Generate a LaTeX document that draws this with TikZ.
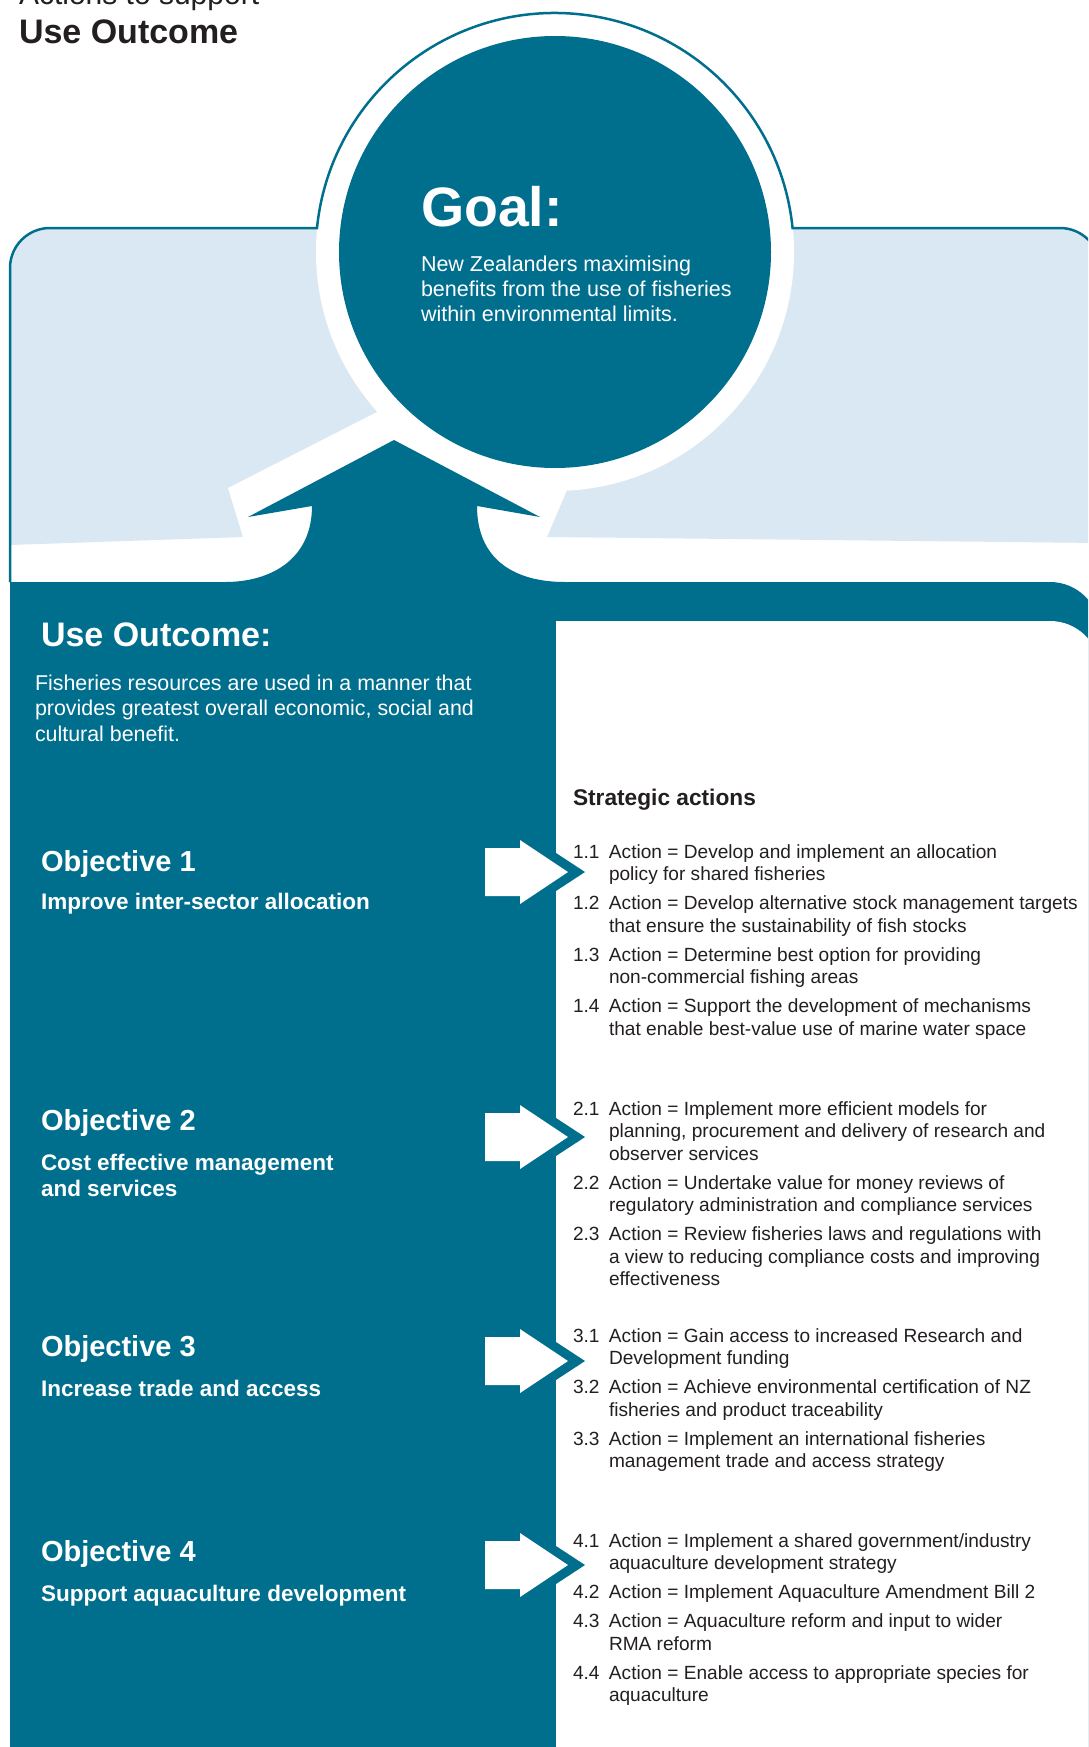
\documentclass[tikz,border=0pt]{standalone}
\usepackage{fontspec}
\setmainfont{Liberation Sans}
\definecolor{darkteal}{HTML}{006F8E}
\definecolor{paleblue}{HTML}{D9E8F2}
\definecolor{inkgray}{HTML}{231F20}
\begin{document}
\begin{tikzpicture}[x=1pt,y=-1pt,
  lbl/.style={anchor=base west, inner sep=0pt, outer sep=0pt},
  wtxt/.style={lbl, text=white},
  objtitle/.style={wtxt, font=\bfseries\fontsize{29}{32}\selectfont},
  objsub/.style={wtxt, font=\bfseries\fontsize{22.5}{26.5}\selectfont},
  acts/.style={lbl, text=inkgray, font=\fontsize{19.1}{22.5}\selectfont},
  darkfill/.style={fill=darkteal, draw=none},
  outline/.style={draw=darkteal, line width=2.5pt},
]
\useasboundingbox (0,0) rectangle (1088,1747);
\clip (0,0) rectangle (1088,1747);
\fill[white] (0,0) rectangle (1088,1747);

% pale blue box
\fill[paleblue] (10,545) -- (10,268) arc[start angle=180,end angle=270,radius=40]
  -- (1060,228) arc[start angle=270,end angle=360,radius=40]
  -- (1100,543) -- (547,537) -- (243,537) -- cycle;
% white ring around goal circle and around arrow
\fill[white] (555,252) circle[radius=239];
\fill[white] (377,412) -- (567,490) -- (547,537) -- (547,560) -- (243,560) -- (243,537) -- (228,488) -- cycle;
% outline of the box and circle
\draw[outline] (10,582) -- (10,268) arc[start angle=180,end angle=270,radius=40]
  -- (317,228) arc[start angle=185.76,end angle=354.24,radius=239]
  -- (1060,228) arc[start angle=270,end angle=360,radius=40] -- (1100,300);
% goal circle
\node[circle, fill=darkteal, minimum size=432pt, inner sep=0pt] (goal) at (555,252) {};

% dark region
\fill[darkteal] (10,582) -- (1050,582) arc[start angle=270,end angle=360,radius=50]
  -- (1100,1760) -- (10,1760) -- cycle;
% upward arrow
\fill[darkteal] (394,440) -- (540,517) -- (477,506)
  .. controls (477,560) and (515,582) .. (565,582) -- (565,595) -- (225,595) -- (225,582)
  .. controls (270,582) and (312,560) .. (312,506) -- (248,517) -- cycle;
% white panel
\fill[white] (556,621) -- (1050,621) arc[start angle=270,end angle=360,radius=50]
  -- (1100,1760) -- (556,1760) -- cycle;

% objective arrows
\foreach \yc/\nm in {872/ar1,1137/ar2,1361/ar3,1565/ar4}{
  \fill[darkteal] (550,\yc-19) -- (556,\yc-19) -- (585,\yc) -- (556,\yc+19) -- (550,\yc+19) -- cycle;
  \fill[white] (485,\yc-24) -- (520,\yc-24) -- (520,\yc-32) -- (568,\yc) -- (520,\yc+32) -- (520,\yc+24) -- (485,\yc+24) -- cycle;
  \coordinate (\nm) at (568,\yc);
}

% titles
\node[lbl, text=inkgray, font=\fontsize{30}{34}\selectfont] (pretitle) at (19,5) {Actions to support};
\node[lbl, text=inkgray, font=\bfseries\fontsize{34}{38}\selectfont] (title) at (19,44) {Use Outcome};

% goal text
\node[wtxt, font=\bfseries\fontsize{55.5}{60}\selectfont] (goalhead) at (421,226) {Goal:};
\node[wtxt, font=\fontsize{21.5}{25}\selectfont] (goaltext) at (421,271.5)
  {\begin{tabular}[t]{@{}l@{}}New Zealanders maximising\\benefits from the use of fisheries\\within environmental limits.\end{tabular}};

% use outcome
\node[wtxt, font=\bfseries\fontsize{34}{38}\selectfont] (uohead) at (41,646) {Use Outcome:};
\node[wtxt, font=\fontsize{21.4}{25.6}\selectfont] (uotext) at (35,690)
  {\begin{tabular}[t]{@{}l@{}}Fisheries resources are used in a manner that\\provides greatest overall economic, social and\\cultural benefit.\end{tabular}};

% objectives
\node[objtitle] (o1) at (41,871) {Objective 1};
\node[objsub] (o1s) at (41,909) {Improve inter-sector allocation};
\node[objtitle] (o2) at (41,1130) {Objective 2};
\node[objsub] (o2s) at (41,1170) {\begin{tabular}[t]{@{}l@{}}Cost effective management\\and services\end{tabular}};
\node[objtitle] (o3) at (41,1356) {Objective 3};
\node[objsub] (o3s) at (41,1396) {Increase trade and access};
\node[objtitle] (o4) at (41,1561) {Objective 4};
\node[objsub] (o4s) at (41,1601) {Support aquaculture development};

% strategic actions
\node[lbl, text=inkgray, font=\bfseries\fontsize{22.7}{26}\selectfont] (sa) at (573,805) {Strategic actions};
\newcommand{\nb}[1]{\makebox[36pt][l]{#1}}
\node[acts] (g1) at (573,858) {\begin{tabular}[t]{@{}l@{}l@{}}
\nb{1.1} & Action = Develop and implement an allocation\\
 & policy for shared fisheries\\[6.5pt]
\nb{1.2} & Action = Develop alternative stock management targets\\
 & that ensure the sustainability of fish stocks\\[6.5pt]
\nb{1.3} & Action = Determine best option for providing\\
 & non-commercial fishing areas\\[6.5pt]
\nb{1.4} & Action = Support the development of mechanisms\\
 & that enable best-value use of marine water space
\end{tabular}};
\node[acts] (g2) at (573,1115) {\begin{tabular}[t]{@{}l@{}l@{}}
\nb{2.1} & Action = Implement more efficient models for\\
 & planning, procurement and delivery of research and\\
 & observer services\\[6.5pt]
\nb{2.2} & Action = Undertake value for money reviews of\\
 & regulatory administration and compliance services\\[6.5pt]
\nb{2.3} & Action = Review fisheries laws and regulations with\\
 & a view to reducing compliance costs and improving\\
 & effectiveness
\end{tabular}};
\node[acts] (g3) at (573,1342) {\begin{tabular}[t]{@{}l@{}l@{}}
\nb{3.1} & Action = Gain access to increased Research and\\
 & Development funding\\[6.5pt]
\nb{3.2} & Action = Achieve environmental certification of NZ\\
 & fisheries and product traceability\\[6.5pt]
\nb{3.3} & Action = Implement an international fisheries\\
 & management trade and access strategy
\end{tabular}};
\node[acts] (g4) at (573,1547) {\begin{tabular}[t]{@{}l@{}l@{}}
\nb{4.1} & Action = Implement a shared government/industry\\
 & aquaculture development strategy\\[6.5pt]
\nb{4.2} & Action = Implement Aquaculture Amendment Bill 2\\[6.5pt]
\nb{4.3} & Action = Aquaculture reform and input to wider\\
 & RMA reform\\[6.5pt]
\nb{4.4} & Action = Enable access to appropriate species for\\
 & aquaculture
\end{tabular}};
\end{tikzpicture}
\end{document}
